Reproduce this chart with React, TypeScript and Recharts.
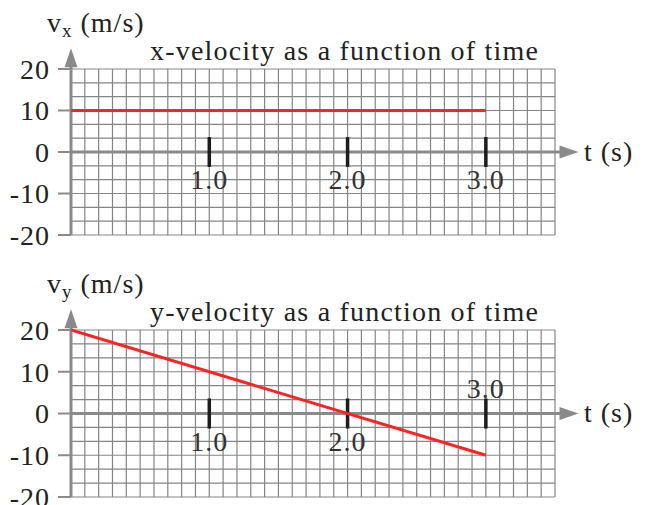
import { LineChart, Line, XAxis, YAxis, CartesianGrid, ReferenceLine } from "recharts";

// velocity components vs. time, one panel each
const TIME_X = [0, 3];
const VEL_X = [10, 10];
const TIME_Y = [0, 3];
const VEL_Y = [20, -10];

const V_TICKS = [-20, -10, 0, 10, 20];
const T_MARKS = [1, 2, 3];
const T_LABELS = ["1.0", "2.0", "3.0"];

// fine graph-paper grid: 0.1 s columns, 10/3 m/s rows
const GRID_T = Array.from({ length: 36 }, (_, i) => i / 10);
const GRID_V = Array.from({ length: 13 }, (_, i) => -20 + (i * 10) / 3);

const T_DOMAIN: [number, number] = [0, 3.5];
const V_DOMAIN: [number, number] = [-20, 20];

const SERIF = "'Liberation Serif', 'Times New Roman', serif";
const INK = "#222";
const AXIS_GREY = "#8a8a8a";
const GRID_GREY = "#858585";
const RED = "#ff2424";

const W = 649;

function Arrow(props: any) {
  const { x1, y1, x2, y2 } = props;
  const dx = x2 - x1;
  const dy = y2 - y1;
  const len = Math.hypot(dx, dy) || 1;
  const ux = dx / len;
  const uy = dy / len;
  const head = 19;
  const hw = 6.5;
  const bx = x2 - ux * head;
  const by = y2 - uy * head;
  return (
    <g>
      <line x1={x1} y1={y1} x2={bx + ux * 2} y2={by + uy * 2} stroke={AXIS_GREY} strokeWidth={3} />
      <polygon
        points={`${x2},${y2} ${bx - uy * hw},${by + ux * hw} ${bx + uy * hw},${by - ux * hw}`}
        fill={AXIS_GREY}
      />
    </g>
  );
}

function tickLabel(text: string, dy: number) {
  return (p: any) => {
    const vb = p.viewBox || {};
    const cx = (vb.x ?? 0) + (vb.width ?? 0) / 2;
    const cy = (vb.y ?? 0) + (vb.height ?? 0) / 2;
    return (
      <text x={cx} y={cy + dy} textAnchor="middle" fontSize={28} fontFamily={SERIF} fill="#333" letterSpacing={1}>
        {text}
      </text>
    );
  };
}

// grid line positions through the axis scales
const gridX = ({ xAxis, offset }: any) =>
  GRID_T.map((t) =>
    xAxis && typeof xAxis.scale === "function"
      ? xAxis.scale(t)
      : offset.left + ((t - T_DOMAIN[0]) / (T_DOMAIN[1] - T_DOMAIN[0])) * offset.width
  );
const gridY = ({ yAxis, offset }: any) =>
  GRID_V.map((v) =>
    yAxis && typeof yAxis.scale === "function"
      ? yAxis.scale(v)
      : offset.top + ((V_DOMAIN[1] - v) / (V_DOMAIN[1] - V_DOMAIN[0])) * offset.height
  );

function Panel({
  times,
  values,
  height,
  top,
  bottom,
  labelAbove,
}: {
  times: number[];
  values: number[];
  height: number;
  top: number;
  bottom: number;
  labelAbove: boolean[];
}) {
  const data = times.map((t, i) => ({ t, v: values[i] }));
  return (
    <LineChart
      width={W}
      height={height}
      data={data}
      margin={{ top, right: 94, bottom, left: 0 }}
      style={{ overflow: "visible" }}
    >
      <XAxis
        dataKey="t"
        type="number"
        domain={T_DOMAIN}
        tick={false}
        tickLine={false}
        axisLine={false}
        height={0}
        allowDataOverflow
      />
      <YAxis
        type="number"
        domain={V_DOMAIN}
        ticks={V_TICKS}
        interval={0}
        width={71}
        axisLine={false}
        tickSize={13}
        tickMargin={8}
        tickLine={{ stroke: AXIS_GREY, strokeWidth: 2 }}
        tick={{ fontSize: 28, fill: INK, fontFamily: SERIF, letterSpacing: 1 }}
      />
      <CartesianGrid
        stroke={GRID_GREY}
        strokeWidth={1.2}
        verticalCoordinatesGenerator={gridX}
        horizontalCoordinatesGenerator={gridY}
      />
      <ReferenceLine segment={[{ x: 0, y: -20 }, { x: 0, y: 25 }]} ifOverflow="visible" shape={Arrow} />
      <ReferenceLine segment={[{ x: 0, y: 0 }, { x: 3.67, y: 0 }]} ifOverflow="visible" shape={Arrow} />
      {T_MARKS.map((t, i) => (
        <ReferenceLine
          key={t}
          segment={[{ x: t, y: -3.6 }, { x: t, y: 3.6 }]}
          stroke="#1c1c1c"
          strokeWidth={3.5}
          ifOverflow="visible"
          label={{ content: tickLabel(T_LABELS[i], labelAbove[i] ? -16 : 37) }}
        />
      ))}
      <Line type="linear" dataKey="v" stroke={RED} strokeWidth={3} dot={false} isAnimationActive={false} />
    </LineChart>
  );
}

function Annotations() {
  const block = (dy: number, sub: string, title: string) => (
    <g fontFamily={SERIF} fill={INK} fontSize={28} letterSpacing={1}>
      <text x={47} y={32 + dy}>
        v<tspan fontSize={19} dy={5}>{sub}</tspan>
        <tspan dy={-5}> (m/s)</tspan>
      </text>
      <text x={150} y={60 + dy} letterSpacing={1.2}>{title}</text>
      <text x={584} y={161 + dy}>t (s)</text>
    </g>
  );
  return (
    <svg
      width={W}
      height={505}
      style={{ position: "absolute", left: 0, top: 0, pointerEvents: "none" }}
    >
      {block(0, "x", "x-velocity as a function of time")}
      {block(261, "y", "y-velocity as a function of time")}
    </svg>
  );
}

export default function App() {
  return (
    <div style={{ position: "absolute", left: 0, top: 0, width: W, height: 505, background: "#fff" }}>
      <Panel times={TIME_X} values={VEL_X} height={250} top={69} bottom={15} labelAbove={[false, false, false]} />
      <Panel times={TIME_Y} values={VEL_Y} height={255} top={80} bottom={8} labelAbove={[false, false, true]} />
      <Annotations />
    </div>
  );
}
